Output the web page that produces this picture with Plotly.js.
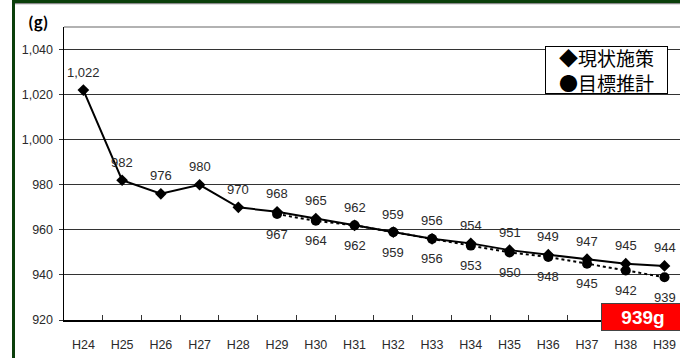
<!DOCTYPE html>
<html>
<head>
<meta charset="utf-8">
<script src="https://cdn.plot.ly/plotly-3.0.1.min.js"></script>
<style>
  html, body { margin: 0; padding: 0; background: #fff; }
  #chart { width: 680px; height: 358px; }
</style>
</head>
<body>
<div id="chart"></div>
<script>
// Categories (fiscal years)
const years = ['H24','H25','H26','H27','H28','H29','H30','H31','H32','H33','H34','H35','H36','H37','H38','H39'];
// 現状施策 (current measures)
const currentValues = [1022, 982, 976, 980, 970, 968, 965, 962, 959, 956, 954, 951, 949, 947, 945, 944];
// 目標推計 (target estimate)
const targetValues = [null, null, null, null, null, 967, 964, 962, 959, 956, 953, 950, 948, 945, 942, 939];
const seriesNames = ['現状施策', '目標推計'];
const yTicks = [920, 940, 960, 980, 1000, 1020, 1040];
const goalLabel = '939g';
const unitLabel = '(g)';

// plot geometry helpers (pixels -> paper)
const L = 64, R = 680, T = 27, B = 320;
const px = x => (x - L) / (R - L);
const py = y => (B - y) / (B - T);

const fmt = v => v.toLocaleString('en-US');
const labelFont = { family: 'Liberation Sans, Arial, sans-serif', size: 13, color: '#2a2a2a' };

const annotations = [];
years.forEach((yr, i) => {
  if (currentValues[i] != null) {
    annotations.push({ x: yr, y: currentValues[i], xref: 'x', yref: 'y', text: fmt(currentValues[i]),
      showarrow: false, yshift: 18, font: labelFont });
  }
  if (targetValues[i] != null) {
    annotations.push({ x: yr, y: targetValues[i], xref: 'x', yref: 'y', text: fmt(targetValues[i]),
      showarrow: false, yshift: -20, font: labelFont });
  }
});

// legend box
annotations.push({
  xref: 'paper', yref: 'paper', x: px(606.5), y: py(70), xanchor: 'center', yanchor: 'middle',
  text: '◆' + seriesNames[0] + '<br>●' + seriesNames[1], showarrow: false, align: 'center',
  font: { family: 'Noto Sans CJK JP, sans-serif', size: 19, color: '#000' },
  bgcolor: '#fff', bordercolor: '#000', borderwidth: 1, borderpad: 0, width: 121, height: 46
});
// unit label
annotations.push({
  xref: 'paper', yref: 'paper', x: px(38), y: py(22), xanchor: 'center', yanchor: 'middle',
  text: '<b>' + unitLabel + '</b>', showarrow: false,
  font: { family: 'Noto Sans CJK JP, sans-serif', size: 15, color: '#000' }
});
// goal box
annotations.push({
  xref: 'paper', yref: 'paper', x: px(601), y: py(303), xanchor: 'left', yanchor: 'top',
  text: '<b>' + goalLabel + '</b>', showarrow: false, align: 'center',
  font: { family: 'Liberation Sans, Arial, sans-serif', size: 19, color: '#fff' },
  bgcolor: '#ff0000', bordercolor: '#444', borderwidth: 1, borderpad: 0, width: 82, height: 26
});

const traces = [
  {
    x: years, y: targetValues, name: seriesNames[1], type: 'scatter', mode: 'lines',
    line: { color: '#000', width: 2, dash: 'dot' },
    connectgaps: false, cliponaxis: false, hoverinfo: 'skip'
  },
  {
    x: years, y: currentValues, name: seriesNames[0], type: 'scatter', mode: 'lines+markers',
    line: { color: '#000', width: 2 },
    marker: { symbol: 'diamond', size: 9, color: '#000' },
    cliponaxis: false
  },
  {
    x: years, y: targetValues, name: seriesNames[1], type: 'scatter', mode: 'markers',
    marker: { symbol: 'circle', size: 10, color: '#000' },
    cliponaxis: false
  }
];

const tickFont = { family: 'Liberation Sans, Arial, sans-serif', size: 12.5, color: '#2a2a2a' };

const layout = {
  width: 680, height: 358,
  margin: { l: L, r: 680 - R, t: T, b: 358 - B, pad: 0 },
  paper_bgcolor: '#fff', plot_bgcolor: '#fff',
  showlegend: false,
  font: tickFont,
  xaxis: {
    type: 'category', categoryorder: 'array', categoryarray: years,
    range: [-0.5, 15.4], showgrid: false, zeroline: false,
    showline: true, linecolor: '#000', linewidth: 1.5,
    ticks: 'inside', tickson: 'boundaries', ticklen: 5, tickcolor: '#333', tickwidth: 1,
    ticklabelstandoff: 12,
    tickfont: tickFont
  },
  yaxis: {
    range: [920, 1050], tickvals: yTicks, ticktext: yTicks.map(fmt),
    showgrid: true, gridcolor: '#333', gridwidth: 1, zeroline: false,
    showline: true, linecolor: '#000', linewidth: 1.5,
    ticks: 'outside', ticklen: 4, tickcolor: '#333',
    ticklabelstandoff: 3,
    tickfont: tickFont
  },
  shapes: [
    // top frame line
    { type: 'line', xref: 'paper', yref: 'paper', x0: 0, x1: 1, y0: 1, y1: 1, line: { color: '#999', width: 1.5 } },
    // green frame: top bar
    { type: 'rect', xref: 'paper', yref: 'paper', x0: px(12), x1: px(681), y0: py(3), y1: py(-1), fillcolor: '#0b3f0b', line: { width: 0 } },
    { type: 'line', xref: 'paper', yref: 'paper', x0: px(15), x1: px(681), y0: py(3.6), y1: py(3.6), line: { color: '#888', width: 1.2 } },
    // green frame: left bar
    { type: 'rect', xref: 'paper', yref: 'paper', x0: px(12), x1: px(15), y0: py(359), y1: py(-1), fillcolor: '#0b3f0b', line: { width: 0 } }
  ],
  annotations: annotations
};

Plotly.newPlot('chart', traces, layout, { displayModeBar: false, staticPlot: true });
</script>
</body>
</html>
